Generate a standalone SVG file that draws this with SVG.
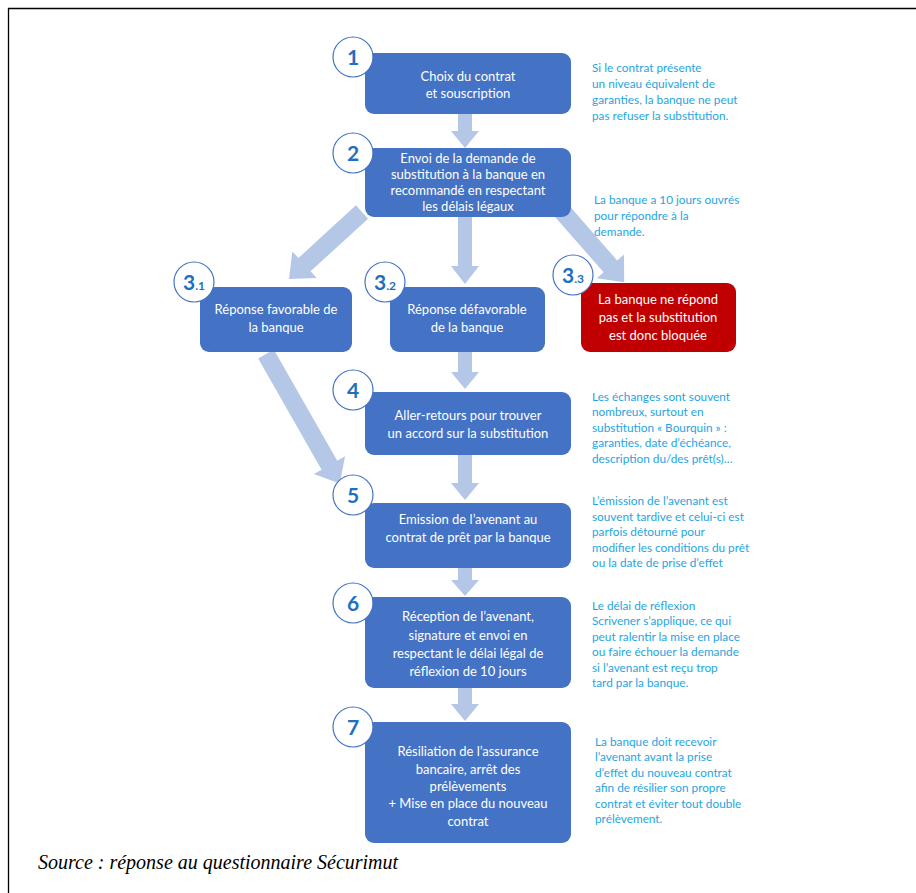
<svg xmlns="http://www.w3.org/2000/svg" width="916" height="893" viewBox="0 0 916 893">
<style>
.box{fill:#4472C4;}
.red{fill:#C00000;}
.bt{font-family:Lato,"Noto Sans",sans-serif;font-size:13px;fill:#ffffff;text-anchor:middle;}
.note{font-family:Lato,"Noto Sans",sans-serif;font-size:11.8px;fill:#1EA5E3;}
.circ{fill:#ffffff;stroke:#4472C4;stroke-width:1.2;}
.num{font-family:Lato,"Noto Sans",sans-serif;font-size:21px;font-weight:bold;fill:#1F6FC0;text-anchor:middle;}
.sub{font-size:12px;}
.arr{fill:#B4C7E7;}
</style>
<rect x="0" y="0" width="916" height="893" fill="#ffffff"/>
<path d="M8.5 893 V8.5 H916" fill="none" stroke="#000" stroke-width="1.3"/>
<g id="connectors">
<path class="arr" d="M458 114 V131 H451 L465 148 L479 131 H472 V114 Z"/>
<path class="arr" d="M458 217 V266 H451 L465 284 L479 266 H472 V217 Z"/>
<path class="arr" d="M458 352 V372 H451 L465 389 L479 372 H472 V352 Z"/>
<path class="arr" d="M458 455 V483 H451 L465 500 L479 483 H472 V455 Z"/>
<path class="arr" d="M458 568 V580 H451 L465 596 L479 580 H472 V568 Z"/>
<path class="arr" d="M458 688 V704 H451 L465 721 L479 704 H472 V688 Z"/>
<path class="arr" transform="translate(362,212) rotate(137.5)" d="M0 -9 H78 V-18 L99 0 L78 18 V9 H0 Z"/>
<path class="arr" transform="translate(561,210) rotate(48.8)" d="M0 -9 H75 V-18 L96 0 L75 18 V9 H0 Z"/>
<path class="arr" transform="translate(266,354) rotate(60.3)" d="M0 -9 H128 V-18 L149 0 L128 18 V9 H0 Z"/>
</g>
<g id="n1">
<rect class="box" x="365" y="53" width="206" height="61" rx="9"/>
<text class="bt" x="468" y="81">Choix du contrat</text>
<text class="bt" x="468" y="98">et souscription</text>
<circle class="circ" cx="353" cy="57" r="20"/>
<text class="num" x="353" y="65">1</text>
</g>
<g id="n2">
<rect class="box" x="365" y="148" width="206" height="69" rx="9"/>
<text class="bt" x="468" y="163">Envoi de la demande de</text>
<text class="bt" x="468" y="179">substitution à la banque en</text>
<text class="bt" x="468" y="195">recommandé en respectant</text>
<text class="bt" x="468" y="211">les délais légaux</text>
<circle class="circ" cx="353" cy="153" r="20"/>
<text class="num" x="353" y="161">2</text>
</g>
<g id="n31">
<rect class="box" x="200" y="287" width="152" height="65" rx="9"/>
<text class="bt" x="276" y="314">Réponse favorable de</text>
<text class="bt" x="276" y="332">la banque</text>
<circle class="circ" cx="194" cy="282" r="20"/>
<text class="num" x="194" y="290">3<tspan class="sub">.1</tspan></text>
</g>
<g id="n32">
<rect class="box" x="390" y="287" width="155" height="65" rx="9"/>
<text class="bt" x="467" y="314">Réponse défavorable</text>
<text class="bt" x="467" y="332">de la banque</text>
<circle class="circ" cx="385" cy="282" r="20"/>
<text class="num" x="385" y="290">3<tspan class="sub">.2</tspan></text>
</g>
<g id="n33">
<rect class="red" x="581" y="283" width="155" height="69" rx="9"/>
<text class="bt" x="658" y="304">La banque ne répond</text>
<text class="bt" x="658" y="322">pas et la substitution</text>
<text class="bt" x="658" y="340">est donc bloquée</text>
<circle class="circ" cx="573" cy="275" r="20"/>
<text class="num" x="573" y="283">3<tspan class="sub">.3</tspan></text>
</g>
<g id="n4">
<rect class="box" x="365" y="392" width="206" height="63" rx="9"/>
<text class="bt" x="468" y="420">Aller-retours pour trouver</text>
<text class="bt" x="468" y="438">un accord sur la substitution</text>
<circle class="circ" cx="353" cy="390" r="20"/>
<text class="num" x="353" y="398">4</text>
</g>
<g id="n5">
<rect class="box" x="365" y="503" width="206" height="65" rx="9"/>
<text class="bt" x="468" y="524">Emission de l’avenant au</text>
<text class="bt" x="468" y="542">contrat de prêt par la banque</text>
<circle class="circ" cx="353" cy="495" r="20"/>
<text class="num" x="353" y="503">5</text>
</g>
<g id="n6">
<rect class="box" x="365" y="597" width="206" height="91" rx="9"/>
<text class="bt" x="468" y="621">Réception de l’avenant,</text>
<text class="bt" x="468" y="640">signature et envoi en</text>
<text class="bt" x="468" y="658">respectant le délai légal de</text>
<text class="bt" x="468" y="676">réflexion de 10 jours</text>
<circle class="circ" cx="353" cy="603" r="20"/>
<text class="num" x="353" y="611">6</text>
</g>
<g id="n7">
<rect class="box" x="365" y="722" width="206" height="121" rx="9"/>
<text class="bt" x="468" y="756">Résiliation de l’assurance</text>
<text class="bt" x="468" y="774">bancaire, arrêt des</text>
<text class="bt" x="468" y="791">prélèvements</text>
<text class="bt" x="468" y="808">+ Mise en place du nouveau</text>
<text class="bt" x="468" y="826">contrat</text>
<circle class="circ" cx="353" cy="727" r="20"/>
<text class="num" x="353" y="735">7</text>
</g>
<g id="notes">
<text class="note" x="592" y="72">Si le contrat présente</text>
<text class="note" x="592" y="88">un niveau équivalent de</text>
<text class="note" x="592" y="104">garanties, la banque ne peut</text>
<text class="note" x="592" y="120">pas refuser la substitution.</text>
<text class="note" x="594" y="204">La banque a 10 jours ouvrés</text>
<text class="note" x="594" y="220">pour répondre à la</text>
<text class="note" x="594" y="236">demande.</text>
<text class="note" x="592" y="401">Les échanges sont souvent</text>
<text class="note" x="592" y="416">nombreux, surtout en</text>
<text class="note" x="592" y="432">substitution « Bourquin » :</text>
<text class="note" x="592" y="447">garanties, date d’échéance,</text>
<text class="note" x="592" y="463">description du/des prêt(s)…</text>
<text class="note" x="592" y="505">L’émission de l’avenant est</text>
<text class="note" x="592" y="521">souvent tardive et celui-ci est</text>
<text class="note" x="592" y="536">parfois détourné pour</text>
<text class="note" x="592" y="552">modifier les conditions du prêt</text>
<text class="note" x="592" y="567">ou la date de prise d’effet</text>
<text class="note" x="592" y="610">Le délai de réflexion</text>
<text class="note" x="592" y="625">Scrivener s’applique, ce qui</text>
<text class="note" x="592" y="641">peut ralentir la mise en place</text>
<text class="note" x="592" y="656">ou faire échouer la demande</text>
<text class="note" x="592" y="672">si l’avenant est reçu trop</text>
<text class="note" x="592" y="687">tard par la banque.</text>
<text class="note" x="595" y="746">La banque doit recevoir</text>
<text class="note" x="595" y="761">l’avenant avant la prise</text>
<text class="note" x="595" y="777">d’effet du nouveau contrat</text>
<text class="note" x="595" y="792">afin de résilier son propre</text>
<text class="note" x="595" y="808">contrat et éviter tout double</text>
<text class="note" x="595" y="823">prélèvement.</text>
</g>
<text x="38" y="869" font-family="'Liberation Serif',serif" font-style="italic" font-size="20" fill="#000">Source : réponse au questionnaire Sécurimut</text>
</svg>
